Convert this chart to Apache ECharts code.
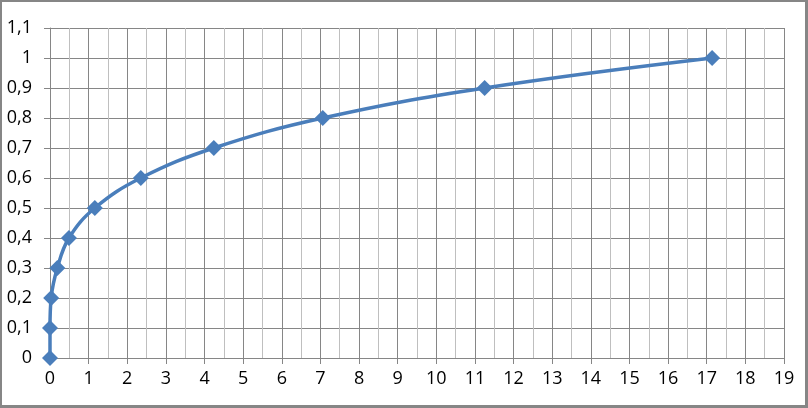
<!DOCTYPE html>
<html><head><meta charset="utf-8">
<script src="https://cdn.jsdelivr.net/npm/echarts@6/dist/echarts.min.js"></script>
<style>
html,body{margin:0;padding:0;background:#fff;}
#c{width:808px;height:408px;box-sizing:border-box;border-style:solid;border-color:#868686;border-width:2px 3px 3px 2px;}
</style></head>
<body><div id="c"></div>
<script>
const xValues = [0, 0, 0.03, 0.19, 0.49, 1.16, 2.35, 4.24, 7.06, 11.25, 17.14];
const yValues = [0, 0.1, 0.2, 0.3, 0.4, 0.5, 0.6, 0.7, 0.8, 0.9, 1.0];
const xMin = 0, xMax = 19, xStep = 1;
const yMin = 0, yMax = 1.1, yStep = 0.1;

const chart = echarts.init(document.getElementById('c'), null, {renderer: 'canvas'});
const fmt = v => String(+(+v).toFixed(1)).replace('.', ',');
chart.setOption({
  animation: false,
  textStyle: {fontFamily: 'Open Sans', fontSize: 18, color: '#000'},
  grid: {left: 48, right: 21, top: 26, bottom: 47, containLabel: false},
  xAxis: {
    type: 'value', min: xMin, max: xMax, interval: xStep,
    axisLine: {show: true, lineStyle: {color: '#868686', width: 1}},
    axisTick: {show: true, inside: false, length: 6, lineStyle: {color: '#868686'}},
    axisLabel: {show: true, margin: 12, formatter: fmt, color: '#000', fontSize: 18, fontFamily: 'Open Sans', hideOverlap: false},
    splitLine: {show: true, lineStyle: {color: '#868686', width: 1}},
    minorTick: {show: false, splitNumber: 2},
    minorSplitLine: {show: true, lineStyle: {color: '#bfbfbf', width: 1}}
  },
  yAxis: {
    type: 'value', min: yMin, max: yMax, interval: yStep,
    axisLine: {show: true, lineStyle: {color: '#868686', width: 1}},
    axisTick: {show: true, inside: false, length: 6, lineStyle: {color: '#868686'}},
    axisLabel: {show: true, margin: 18, formatter: fmt, color: '#000', fontSize: 18, fontFamily: 'Open Sans', hideOverlap: false},
    splitLine: {show: true, lineStyle: {color: '#868686', width: 1}}
  },
  series: [{
    type: 'line',
    data: xValues.map((x, i) => [x, yValues[i]]),
    smooth: 0.4,
    symbol: 'diamond',
    symbolSize: 16,
    showAllSymbol: true,
    lineStyle: {color: '#4a7ebb', width: 3.5},
    itemStyle: {color: '#4a7ebb'}
  }]
});
</script></body></html>
